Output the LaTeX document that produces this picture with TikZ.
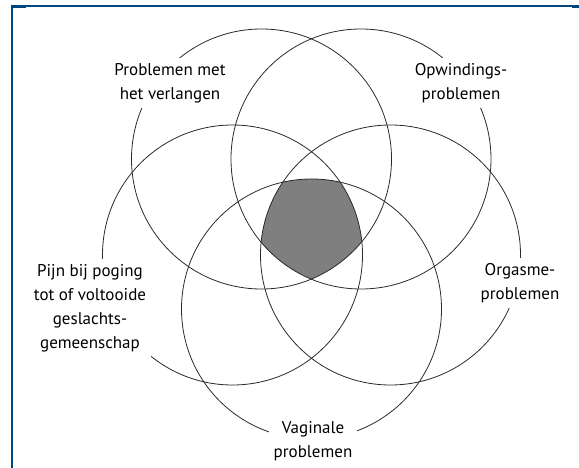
\documentclass[tikz,border=0pt]{standalone}
\usepackage{fontspec}
\setmainfont{PT Sans}
\definecolor{framec}{HTML}{00477F}
\definecolor{linec}{HTML}{2A2A2A}
\definecolor{fillc}{HTML}{7F7F7F}
\begin{document}
\begin{tikzpicture}[x=1pt,y=-1pt,
  ring/.style={draw=linec,line width=0.8pt},
  lbl/.style={fill=white,inner sep=5pt,align=center,font=\fontsize{17}{24}\selectfont,text=black}]
\useasboundingbox (0,0) rectangle (579,468);
% frame
\draw[framec,line width=2pt] (11.5,468) -- (11.5,6.5) -- (572,6.5);
\fill[framec] (11,5.5) rectangle (26,8);
\fill[framec] (572,5.5) rectangle (579,8);
% circle centres
\coordinate (cB) at (311.5,309);
\coordinate (cR) at (390.5,255);
\coordinate (cTR) at (361,159);
\coordinate (cTL) at (261.5,159);
\coordinate (cL) at (232.5,255);
\def\rr{130}
% common region
\begin{scope}
\clip (cB) circle[radius=\rr];
\clip (cR) circle[radius=\rr];
\clip (cTR) circle[radius=\rr];
\clip (cTL) circle[radius=\rr];
\fill[fillc] (cL) circle[radius=\rr];
\end{scope}
\draw[ring] (cB) circle[radius=\rr];
\draw[ring] (cR) circle[radius=\rr];
\draw[ring] (cTR) circle[radius=\rr];
\draw[ring] (cTL) circle[radius=\rr];
\draw[ring] (cL) circle[radius=\rr];
% labels
\node[lbl] (lTL) at (170,83) {Problemen met\\het verlangen};
\node[lbl] (lTR) at (461,83) {Opwindings-\\problemen};
\node[lbl] (lR) at (520,283) {Orgasme-\\problemen};
\node[lbl] (lL) at (90,308) {Pijn bij poging\\tot of voltooide\\geslachts-\\gemeenschap};
\node[lbl] (lB) at (313,441) {Vaginale\\problemen};
\end{tikzpicture}
\end{document}
